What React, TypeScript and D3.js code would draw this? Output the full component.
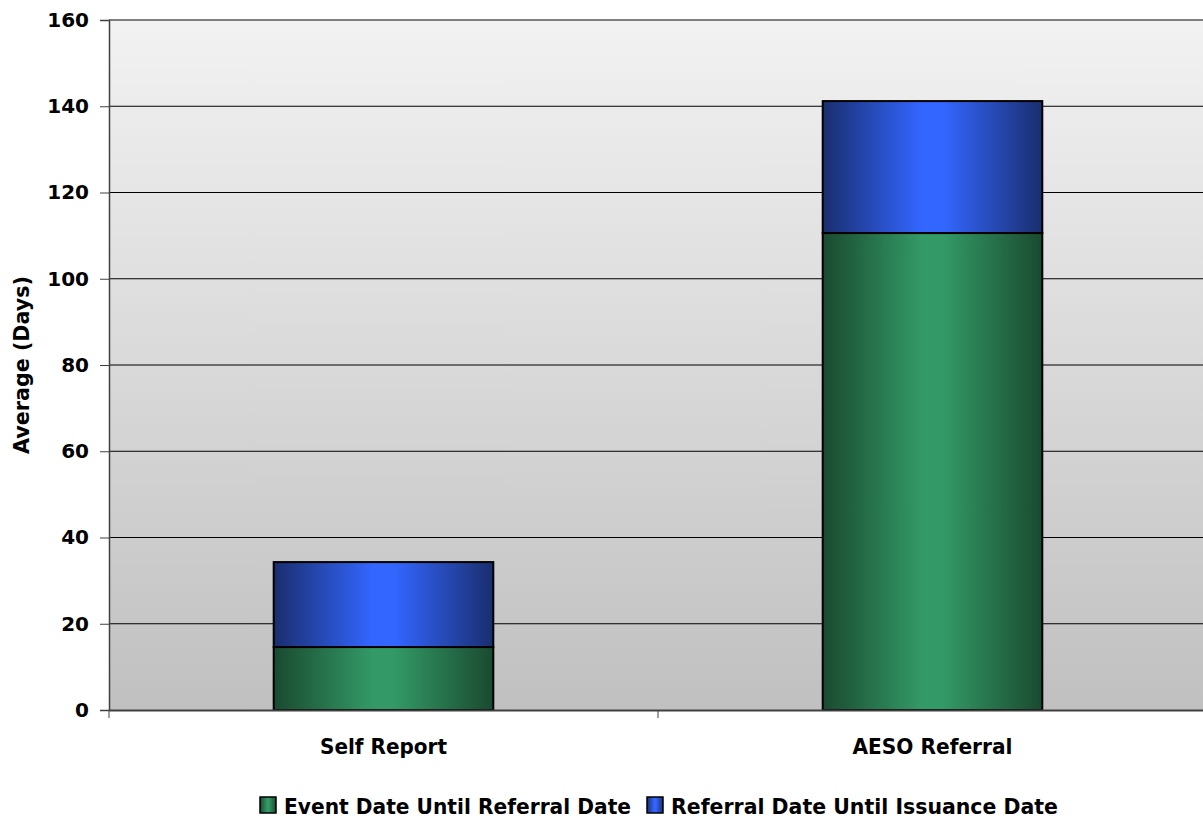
import React, { useEffect, useRef } from 'react';
import * as d3 from 'd3';

const categories = ['Self Report', 'AESO Referral'];
const categoryWidths = [127, 160];
const seriesNames = ['Event Date Until Referral Date', 'Referral Date Until Issuance Date'];
const eventToReferral = [14.6, 110.6];
const referralToIssuance = [19.7, 30.6];
const yTicks = [0, 20, 40, 60, 80, 100, 120, 140, 160];

const App = () => {
  const ref = useRef<SVGSVGElement>(null);

  useEffect(() => {
    const svg = d3.select(ref.current);
    svg.selectAll('*').remove();

    const width = 1203;
    const height = 819;
    const margin = { top: 20, right: -4, bottom: 109, left: 109 };
    const innerW = width - margin.left - margin.right;
    const innerH = height - margin.top - margin.bottom;
    const font = "'DejaVu Sans', Tahoma, sans-serif";

    const defs = svg.append('defs');
    const bg = defs.append('linearGradient').attr('id', 'bg').attr('x1', 0).attr('y1', 0).attr('x2', 0).attr('y2', 1);
    bg.append('stop').attr('offset', '0%').attr('stop-color', '#f2f2f2');
    bg.append('stop').attr('offset', '100%').attr('stop-color', '#c0c0c0');

    const mkGrad = (id: string, edge: string, mid: string) => {
      const g = defs.append('linearGradient').attr('id', id).attr('x1', 0).attr('y1', 0).attr('x2', 1).attr('y2', 0);
      g.append('stop').attr('offset', '0%').attr('stop-color', edge);
      g.append('stop').attr('offset', '45%').attr('stop-color', mid);
      g.append('stop').attr('offset', '55%').attr('stop-color', mid);
      g.append('stop').attr('offset', '100%').attr('stop-color', edge);
    };
    mkGrad('green', '#1a4a30', '#339966');
    mkGrad('blue', '#1a2e6e', '#3366ff');

    const g = svg.append('g').attr('transform', `translate(${margin.left},${margin.top})`);

    const x = d3.scaleBand().domain(categories).range([0, innerW]);
    const y = d3.scaleLinear().domain([0, 160]).range([innerH, 0]);

    g.append('rect').attr('width', innerW).attr('height', innerH).attr('fill', 'url(#bg)');

    // gridlines
    g.append('g')
      .selectAll('line')
      .data(yTicks.filter(t => t > 0 && t < 160))
      .enter()
      .append('line')
      .attr('x1', 0)
      .attr('x2', innerW)
      .attr('y1', d => y(d))
      .attr('y2', d => y(d))
      .attr('stroke', '#000')
      .attr('stroke-width', 1);
    g.append('line').attr('x1', 0).attr('x2', innerW).attr('y1', y(160)).attr('y2', y(160))
      .attr('stroke', '#808080').attr('stroke-width', 2);

    const barW = x.bandwidth() * 0.4;
    const stacks = [
      { vals: eventToReferral, base: categories.map(() => 0), fill: 'url(#green)' },
      { vals: referralToIssuance, base: eventToReferral, fill: 'url(#blue)' },
    ];
    stacks.forEach(s => {
      g.append('g')
        .selectAll('rect')
        .data(categories)
        .enter()
        .append('rect')
        .attr('x', d => (x(d) as number) + (x.bandwidth() - barW) / 2)
        .attr('width', barW)
        .attr('y', (d, i) => y(s.base[i] + s.vals[i]))
        .attr('height', (d, i) => y(s.base[i]) - y(s.base[i] + s.vals[i]))
        .attr('fill', s.fill)
        .attr('stroke', '#000')
        .attr('stroke-width', 2);
    });

    // y axis
    const yAxis = g.append('g').call(d3.axisLeft(y).tickValues(yTicks).tickSize(9).tickPadding(11));
    yAxis.select('.domain').attr('stroke', '#404040').attr('stroke-width', 1.5);
    yAxis.selectAll('.tick line').attr('stroke', '#404040');
    yAxis.selectAll('text').attr('font-family', font).attr('font-weight', 'bold').attr('font-size', 20).attr('fill', '#000');

    // x axis
    const xAxis = g.append('g').attr('transform', `translate(0,${innerH})`)
      .call(d3.axisBottom(x).tickSize(0).tickPadding(29));
    xAxis.select('.domain').attr('stroke', '#404040').attr('stroke-width', 2);
    xAxis.selectAll('text')
      .attr('font-family', font).attr('font-weight', 'bold').attr('font-size', 21).attr('fill', '#000')
      .attr('textLength', (d, i) => categoryWidths[i]).attr('lengthAdjust', 'spacingAndGlyphs');
    g.append('g').selectAll('line')
      .data(categories)
      .enter()
      .append('line')
      .attr('x1', d => x(d) as number)
      .attr('x2', d => x(d) as number)
      .attr('y1', innerH)
      .attr('y2', innerH + 8)
      .attr('stroke', '#404040');

    svg.append('text')
      .attr('transform', `translate(29,${margin.top + innerH / 2}) rotate(-90)`)
      .attr('text-anchor', 'middle')
      .attr('font-family', font)
      .attr('font-weight', 'bold')
      .attr('font-size', 21)
      .attr('textLength', 178).attr('lengthAdjust', 'spacingAndGlyphs')
      .text('Average (Days)');

    // legend
    const legend = [
      { name: seriesNames[0], fill: 'url(#green)', x: 260, w: 347 },
      { name: seriesNames[1], fill: 'url(#blue)', x: 647, w: 387 },
    ];
    const lg = svg.append('g');
    legend.forEach(l => {
      lg.append('rect').attr('x', l.x).attr('y', 797).attr('width', 16).attr('height', 16)
        .attr('fill', l.fill).attr('stroke', '#000').attr('stroke-width', 1.5);
      lg.append('text').attr('x', l.x + 24).attr('y', 814)
        .attr('font-family', font).attr('font-weight', 'bold').attr('font-size', 21)
        .attr('textLength', l.w).attr('lengthAdjust', 'spacingAndGlyphs')
        .text(l.name);
    });
  }, []);

  return <svg ref={ref} width={1203} height={819} style={{ position: 'absolute', left: 0, top: 0 }} />;
};

export default App;
